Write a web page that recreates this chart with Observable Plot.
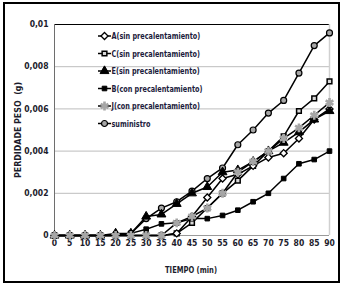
<!DOCTYPE html>
<html><head><meta charset="utf-8">
<script src="https://cdn.jsdelivr.net/npm/d3@7"></script>
<script src="https://cdn.jsdelivr.net/npm/@observablehq/plot@0.6"></script>
<style>
body{margin:0;background:#fff}
#chart{width:342px;height:288px;position:relative}
svg text{font-family:"Liberation Sans Narrow","DejaVu Sans Condensed",sans-serif;font-weight:bold}
</style>
</head><body><div id="chart"></div>
<script>
const tiempo = [0,5,10,15,20,25,30,35,40,45,50,55,60,65,70,75,80,85,90];
const serieA = [0,0,0,0,0,0,0,0,0.0001,0.0009,0.0018,0.0027,0.0029,0.0033,0.0037,0.0039,0.0046,0.0055,0.0060];
const serieC = [0,0,0,0,0,0,0,0,0.0001,0.0006,0.0013,0.0020,0.0026,0.0033,0.0040,0.0047,0.0059,0.0065,0.0073];
const serieE = [0,0,0,0,0.0001,0.0001,0.0009,0.0010,0.0015,0.0020,0.0023,0.0030,0.0031,0.0035,0.0040,0.0044,0.0049,0.0055,0.0059];
const serieB = [0,0,0,0,0,0.0001,0.0003,0.00055,0.0006,0.0008,0.0008,0.00095,0.0012,0.0016,0.0020,0.0027,0.0034,0.0036,0.0040];
const serieJ = [0,0,0,0,0,0,0,0,0.0006,0.0009,0.0013,0.0020,0.0030,0.0035,0.0040,0.0046,0.0051,0.0057,0.0063];
const serieS = [0,0,0,0,0.00005,0.0001,0.0008,0.0013,0.0016,0.0021,0.0027,0.0032,0.0043,0.0050,0.0058,0.0064,0.0077,0.0090,0.0096];
const nombres = ["A(sin precalentamiento)","C(sin precalentamiento)","E(sin precalentamiento)","B(con precalentamiento)","J(con precalentamiento)","suministro"];
const yTicks = [0,0.002,0.004,0.006,0.008,0.01];
const yTickLabels = ["0","0,002","0,004","0,006","0,008","0,01"];
const xTicks = tiempo;

const estilos = [
  {symbol:"diamond2", fill:"#fff", stroke:"#000", r:3.2, sw:1.3},
  {symbol:"square2", fill:"#d8d8d8", stroke:"#000", r:3, sw:1.5},
  {symbol:"triangle", fill:"#000", stroke:"#000", r:3.3, sw:1},
  {symbol:"square", fill:"#000", stroke:"#000", r:2.6, sw:1},
  {symbol:"asterisk", fill:"none", stroke:"#a6a6a6", r:4.2, sw:2.6},
  {symbol:"circle", fill:"#a6a6a6", stroke:"#000", r:3, sw:1.2}
];
const valores = [serieA, serieC, serieE, serieB, serieJ, serieS];
const drawOrder = [5,1,0,2,3,4];

const marks = [
  Plot.ruleY(yTicks.slice(1,5), {stroke:"#bdbdbd", strokeWidth:1}),
  Plot.ruleY([0.01], {stroke:"#000", strokeWidth:1}),
  Plot.ruleY([0], {stroke:"#9a9a9a", strokeWidth:1}),
  Plot.ruleX([90], {stroke:"#d0d0d0", strokeWidth:1.5}),
  Plot.ruleX([0], {stroke:"#6e6e6e", strokeWidth:1}),
  Plot.axisY({ticks:yTicks, tickFormat:(d,i)=>yTickLabels[i], tickSize:0, tickPadding:6, fontSize:8.5, fill:"#1c1c2c", label:null}),
  Plot.axisX({ticks:xTicks, tickSize:0, tickPadding:4, fontSize:8.5, fill:"#1c1c2c", label:null})
];
for (const i of drawOrder) {
  const data = tiempo.map((t,k)=>({t, v:valores[i][k]}));
  marks.push(Plot.line(data, {x:"t", y:"v", stroke:"#000", strokeWidth:1.5}));
}
for (const i of drawOrder) {
  const data = tiempo.map((t,k)=>({t, v:valores[i][k]}));
  const s = estilos[i];
  marks.push(Plot.dot(data, {x:"t", y:"v", symbol:s.symbol, r:s.r, fill:s.fill, stroke:s.stroke, strokeWidth:s.sw}));
}

const chart = Plot.plot({
  width:342, height:288,
  marginLeft:54, marginRight:13, marginTop:24, marginBottom:53,
  x:{domain:[0,90]},
  y:{domain:[0,0.01]},
  style:{background:"#fff"},
  marks
});
document.getElementById("chart").appendChild(chart);

const svg = d3.select(chart);
svg.append("rect").attr("x",4).attr("y",3).attr("width",335).attr("height",279)
  .attr("fill","none").attr("stroke","#000").attr("stroke-width",2);
svg.append("text").attr("x",191).attr("y",273).attr("text-anchor","middle")
  .attr("font-size",9.5).attr("fill","#1c1c2c")
  .attr("textLength",52).attr("lengthAdjust","spacingAndGlyphs").text("TIEMPO (min)");
svg.append("text").attr("transform","translate(21,130) rotate(-90)").attr("text-anchor","middle")
  .attr("font-size",9.5).attr("fill","#1c1c2c")
  .attr("textLength",96).attr("lengthAdjust","spacingAndGlyphs").text("PERDIDADE PESO  (g)");

const symMap = {diamond2:d3.symbolDiamond2, square2:d3.symbolSquare2, triangle:d3.symbolTriangle, square:d3.symbolSquare, asterisk:d3.symbolAsterisk, circle:d3.symbolCircle};
const lg = svg.append("g");
nombres.forEach((n,i)=>{
  const y = 36 + i*17.5;
  const s = estilos[i];
  lg.append("line").attr("x1",98).attr("x2",111).attr("y1",y).attr("y2",y).attr("stroke","#000").attr("stroke-width",1.5);
  lg.append("path").attr("transform",`translate(104.5,${y})`)
    .attr("d", d3.symbol(symMap[s.symbol], Math.PI*s.r*s.r)())
    .attr("fill",s.fill).attr("stroke",s.stroke).attr("stroke-width",s.sw);
  const t = lg.append("text").attr("x",111.5).attr("y",y+3.2).attr("text-anchor","start")
    .attr("font-size",9.5).attr("fill","#1c1c3c").text(n);
  const w = t.node().getComputedTextLength();
  t.attr("textLength", w*0.76).attr("lengthAdjust","spacingAndGlyphs");
});
</script></body></html>
